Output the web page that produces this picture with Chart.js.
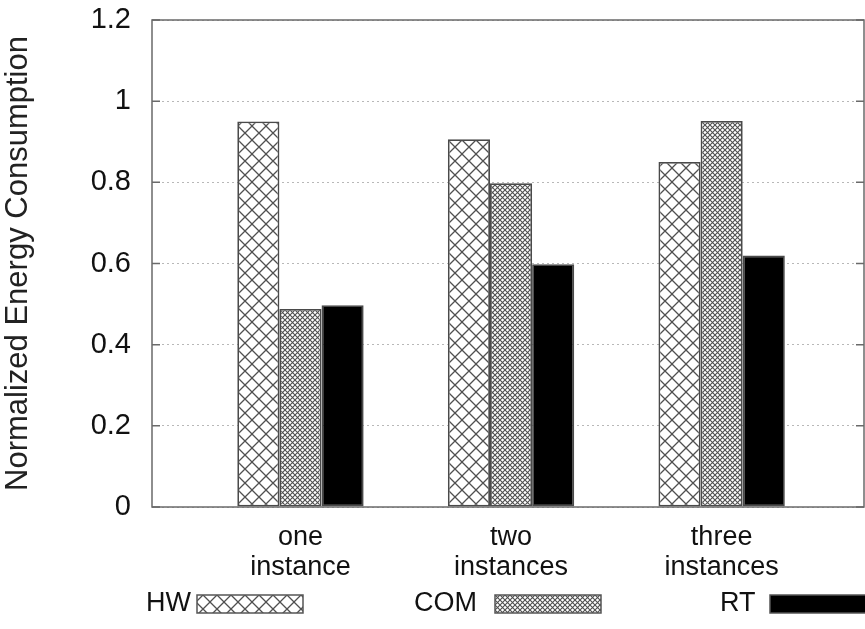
<!DOCTYPE html>
<html>
<head>
<meta charset="utf-8">
<script src="https://cdn.jsdelivr.net/npm/chart.js@4"></script>
<style>
  html, body { margin: 0; padding: 0; background: #fff; }
  canvas { display: block; }
</style>
</head>
<body>
<canvas id="energyChart" width="865" height="629"></canvas>
<script>
// data
var categories = [["one", "instance"], ["two", "instances"], ["three", "instances"]];
var seriesNames = ["HW", "COM", "RT"];
var hwValues = [0.95, 0.906, 0.85];
var comValues = [0.488, 0.798, 0.951];
var rtValues = [0.497, 0.598, 0.62];
var yTicks = [0, 0.2, 0.4, 0.6, 0.8, 1, 1.2];

var FONT = "'Liberation Sans', Arial, sans-serif";

function makePattern(size, lw, color) {
    var c = document.createElement("canvas");
    c.width = size; c.height = size;
    var g = c.getContext("2d");
    g.fillStyle = "#fff";
    g.fillRect(0, 0, size, size);
    g.strokeStyle = color;
    g.lineWidth = lw;
    g.beginPath();
    g.moveTo(0, 0); g.lineTo(size, size);
    g.moveTo(size, 0); g.lineTo(0, size);
    g.stroke();
    return g.createPattern(c, "repeat");
}

var hwFill = makePattern(14, 1.3, "#505050");
var comFill = makePattern(5, 1.1, "#505050");
var rtFill = "#000";
var fills = [hwFill, comFill, rtFill];

function points(vals) {
    return vals.map(function (v, i) { return { x: i, y: v }; });
}

// gnuplot style frame, mirror ticks and the key under the plot
var framePlugin = {
    id: "frame",
    afterDatasetsDraw: function (chart) {
        var ctx = chart.ctx, a = chart.chartArea, y = chart.scales.y;
        ctx.save();
        ctx.strokeStyle = "#6a6a6a";
        ctx.lineWidth = 1.5;
        ctx.strokeRect(a.left, a.top, a.right - a.left, a.bottom - a.top);
        ctx.beginPath();
        yTicks.forEach(function (t) {
            var py = y.getPixelForValue(t);
            ctx.moveTo(a.left, py); ctx.lineTo(a.left + 8, py);
            ctx.moveTo(a.right, py); ctx.lineTo(a.right - 8, py);
        });
        ctx.stroke();

        // key
        var textX = [146, 414, 720];
        var boxX = [197, 495, 770];
        var keyY = 604;
        ctx.font = "27px " + FONT;
        ctx.textBaseline = "middle";
        chart.data.datasets.forEach(function (ds, i) {
            ctx.fillStyle = "#111";
            ctx.fillText(ds.label, textX[i], keyY);
            ctx.fillStyle = ds.backgroundColor;
            ctx.fillRect(boxX[i], keyY - 9, 106, 18);
            ctx.strokeStyle = "#555";
            ctx.lineWidth = 1.5;
            ctx.strokeRect(boxX[i], keyY - 9, 106, 18);
        });
        ctx.restore();
    }
};

var datasets = [hwValues, comValues, rtValues].map(function (vals, i) {
    return {
        label: seriesNames[i],
        data: points(vals),
        backgroundColor: fills[i],
        borderColor: "#4a4a4a",
        borderWidth: 1.8,
        borderSkipped: false,
        categoryPercentage: 0.6,
        barPercentage: 1.0
    };
});

var ctx = document.getElementById("energyChart").getContext("2d");
var energyChart = new Chart(ctx, {
    type: "bar",
    data: { datasets: datasets },
    options: {
        responsive: false,
        animation: false,
        layout: { padding: { top: 20, right: 1, left: 0, bottom: 0 } },
        plugins: { legend: { display: false }, tooltip: { enabled: false } },
        scales: {
            x: {
                type: "linear",
                offset: false,
                min: -0.705,
                max: 2.676,
                afterBuildTicks: function (scale) {
                    scale.ticks = categories.map(function (c, i) { return { value: i }; });
                },
                afterFit: function (scale) {
                    scale.height = 122;
                    scale.paddingLeft = 0;
                    scale.paddingRight = 0;
                },
                grid: { display: false, drawTicks: false, offset: false },
                border: { display: false },
                ticks: {
                    padding: 16,
                    color: "#111",
                    font: { family: FONT, size: 27, lineHeight: 1.1 },
                    maxRotation: 0,
                    autoSkip: false,
                    callback: function (v) { return categories[v]; }
                }
            },
            y: {
                min: 0,
                max: 1.2,
                afterBuildTicks: function (scale) {
                    scale.ticks = yTicks.map(function (t) { return { value: t }; });
                },
                afterFit: function (scale) {
                    scale.width = 152;
                    scale.paddingTop = 0;
                    scale.paddingBottom = 0;
                },
                grid: { color: "#b8b8b8", lineWidth: 1, drawTicks: false },
                border: { display: false, dash: [2, 3] },
                ticks: {
                    padding: 21,
                    color: "#111",
                    font: { family: FONT, size: 29 },
                    callback: function (v) { return String(Math.round(v * 10) / 10); }
                },
                title: {
                    display: true,
                    text: "Normalized Energy Consumption",
                    color: "#222",
                    font: { family: FONT, size: 31 },
                    padding: { top: 0, bottom: 2 }
                }
            }
        }
    },
    plugins: [framePlugin]
});
</script>
</body>
</html>
